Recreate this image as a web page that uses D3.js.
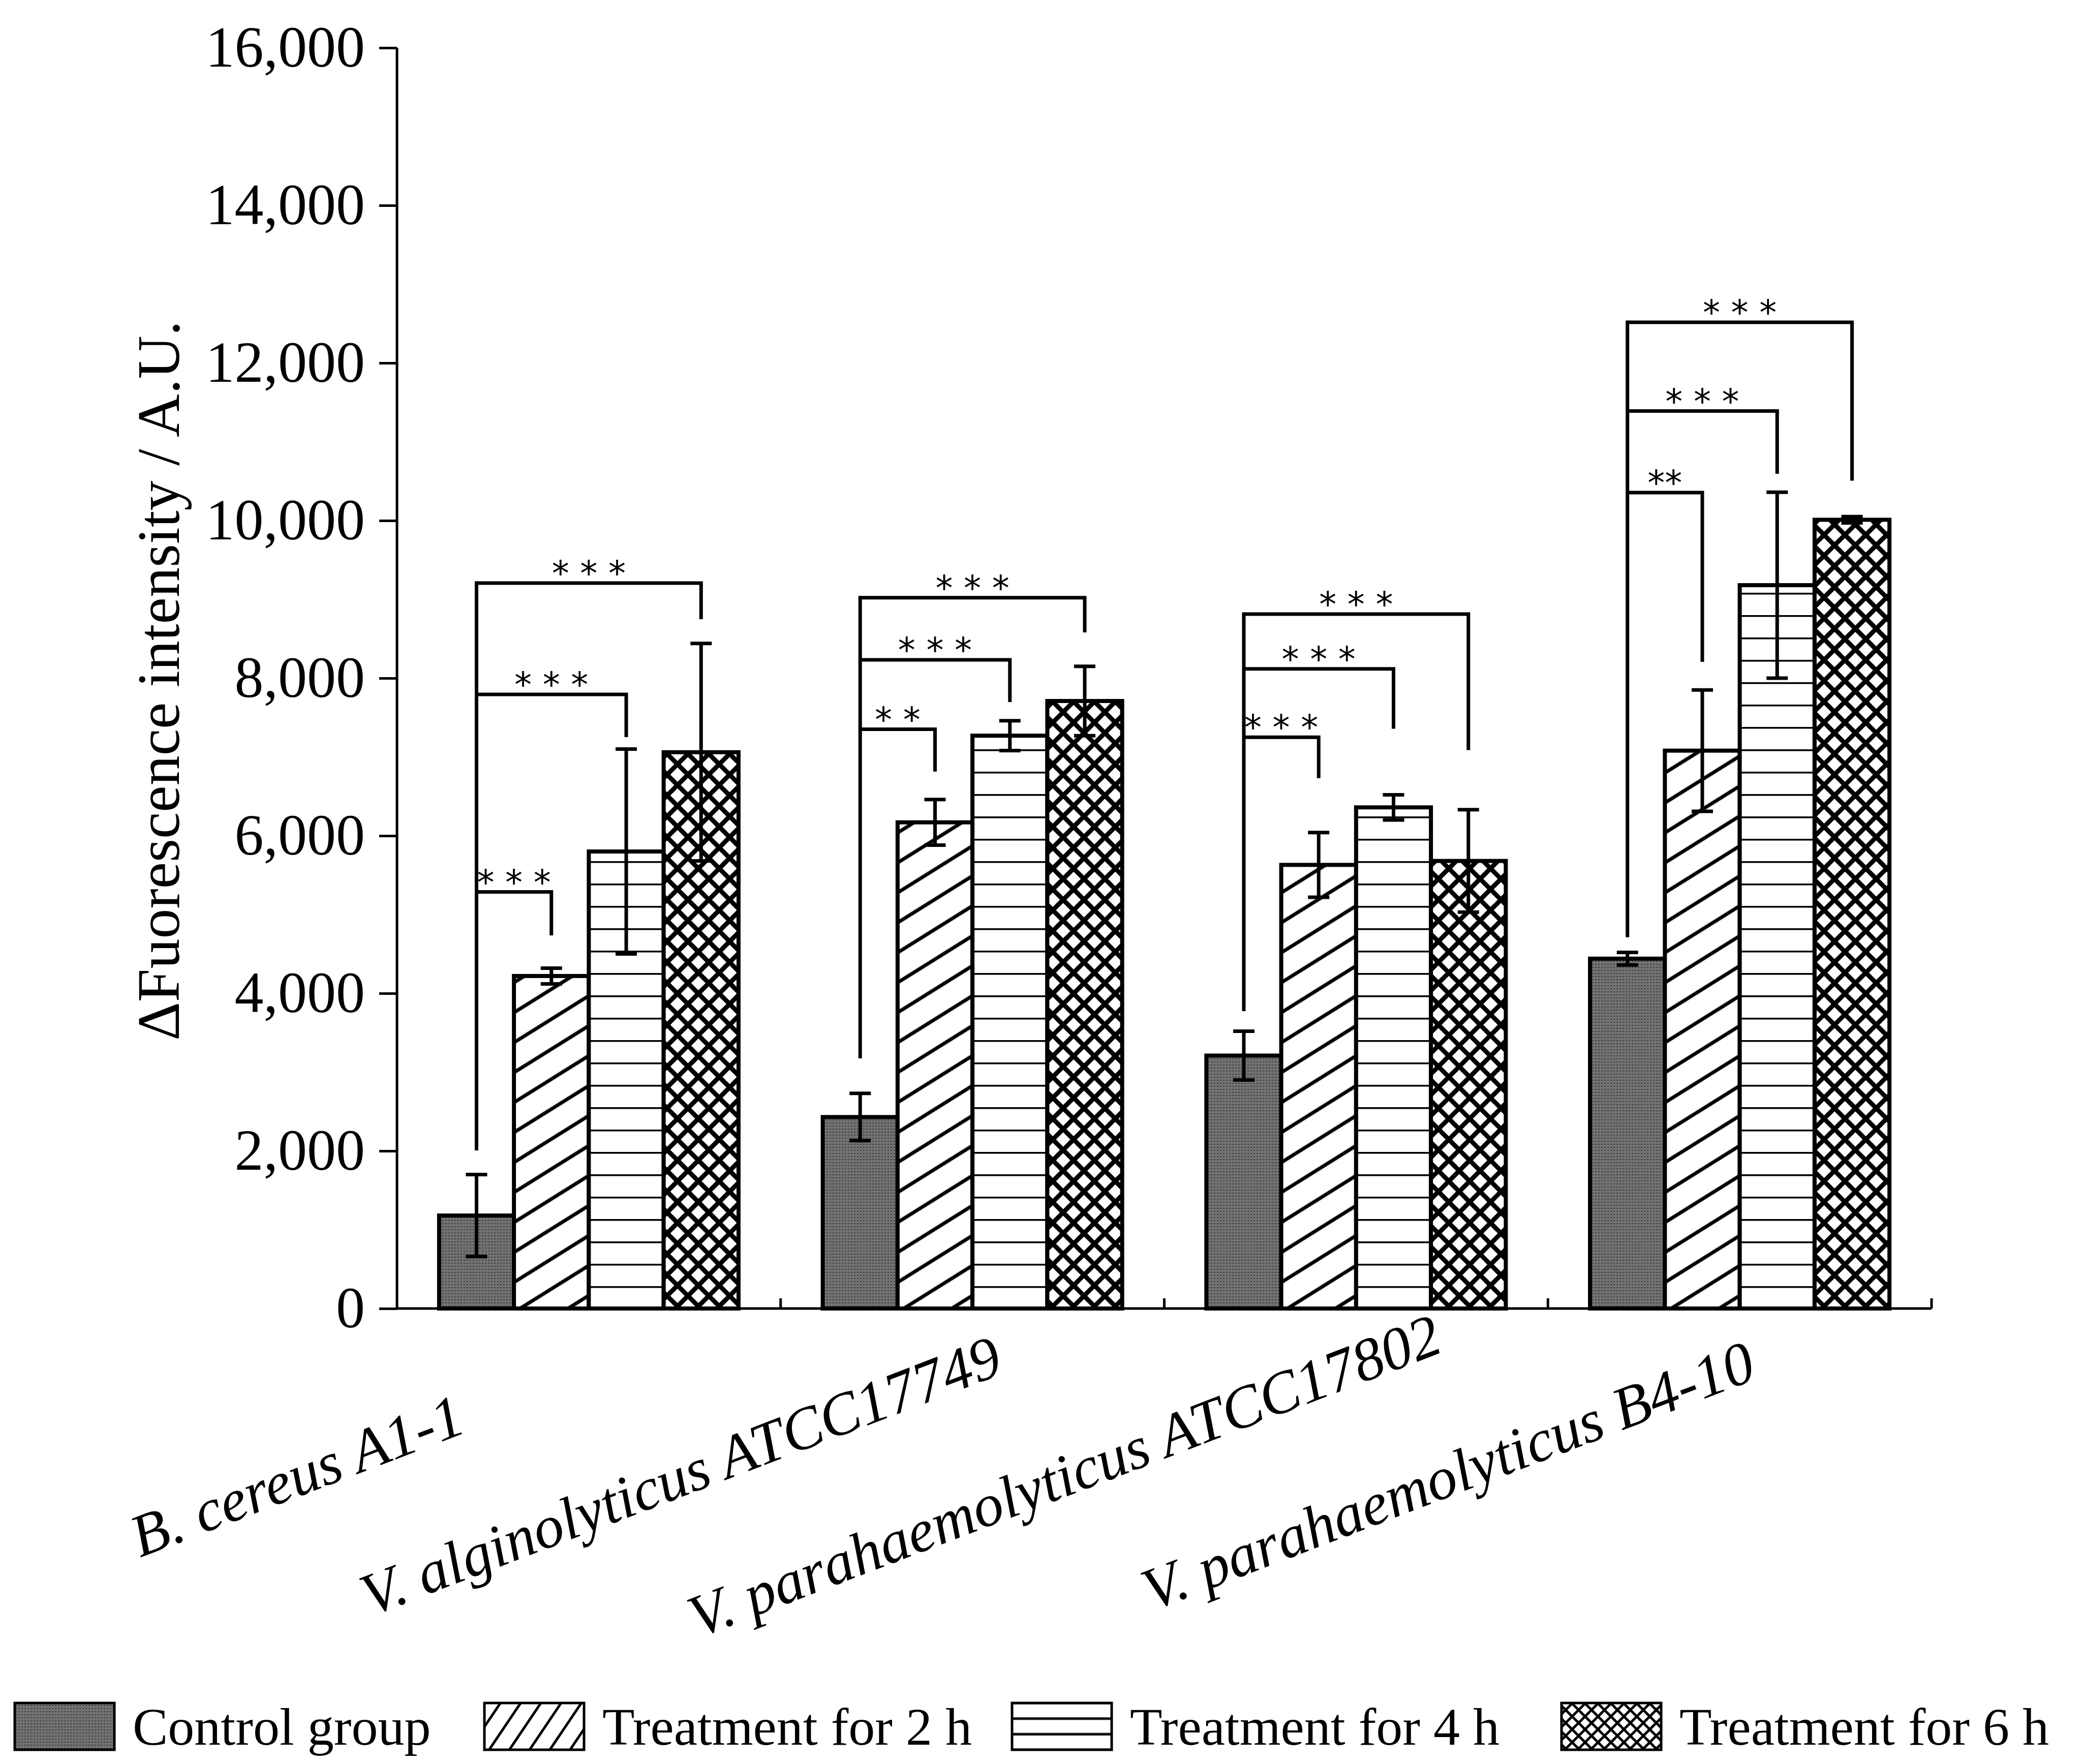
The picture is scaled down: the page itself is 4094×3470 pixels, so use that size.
<!DOCTYPE html>
<html>
<head>
<meta charset="utf-8">
<script src="https://cdn.jsdelivr.net/npm/d3@7"></script>
<style>
  body { margin: 0; background: #fff; }
</style>
</head>
<body>
<svg id="chart"></svg>
<script>
const categories = ["B. cereus A1-1", "V. alginolyticus ATCC17749", "V. parahaemolyticus ATCC17802", "V. parahaemolyticus B4-10"];
const seriesNames = ["Control group", "Treatment for 2 h", "Treatment for 4 h", "Treatment for 6 h"];

const controlMean = [1180, 2430, 3210, 4440];
const controlErr  = [520, 300, 310, 80];
const h2Mean = [4220, 6170, 5630, 7080];
const h2Err  = [100, 290, 410, 770];
const h4Mean = [5800, 7270, 6360, 9180];
const h4Err  = [1300, 190, 160, 1180];
const h6Mean = [7060, 7710, 5680, 10010];
const h6Err  = [1380, 440, 650, 40];

const yTicks = [0, 2000, 4000, 6000, 8000, 10000, 12000, 14000, 16000];

// significance brackets (values in y units): left foot, bar levels, right feet, labels
const sigStart = [2006, 3174, 3774, 4712];
const sigLevel = [[5287, 7794, 9206], [7351, 8233, 9021], [7250, 8118, 8813], [10355, 11390, 12516]];
const sigEnd   = [[4735, 7252, 8748], [6815, 7697, 8580], [6730, 7358, 7087], [8206, 10594, 10506]];
const sigText  = [["* * *", "* * *", "* * *"], ["* *", "* * *", "* * *"], ["* * *", "* * *", "* * *"], ["**", "* * *", "* * *"]];

const width = 4094;
const height = 3470;
const serif = "'Liberation Serif', 'Times New Roman', serif";

const means = [controlMean, h2Mean, h4Mean, h6Mean];
const errs = [controlErr, h2Err, h4Err, h6Err];
const fills = ["url(#pCtrl)", "url(#pH2)", "url(#pH4)", "url(#pH6)"];
const legendFills = ["url(#lCtrl)", "url(#lH2)", "url(#lH4)", "url(#lH6)"];
const legendX = [29, 953, 1991, 3072]; // legend item left edges

const svg = d3.select("#chart")
    .attr("width", width)
    .attr("height", height)
    .style("background", "#fff");

const defs = svg.append("defs");

// fill patterns
const makePattern = (id, w, h, transform, draw) => {
    const p = defs.append("pattern")
        .attr("id", id)
        .attr("patternUnits", "userSpaceOnUse")
        .attr("width", w)
        .attr("height", h);
    if (transform) p.attr("patternTransform", transform);
    p.append("rect").attr("width", w).attr("height", h).attr("fill", "#fff");
    draw(p);
};

const dots = p => {
    p.append("rect").attr("width", 6).attr("height", 6).attr("fill", "#727272");
    p.append("rect").attr("width", 3).attr("height", 2).attr("fill", "#404040");
};
makePattern("pCtrl", 6, 6, null, dots);
makePattern("lCtrl", 6, 6, null, dots);

makePattern("pH2", 50, 50, "rotate(-32)", p => p.append("rect").attr("y", 21.5).attr("width", 50).attr("height", 7).attr("fill", "#000"));
makePattern("lH2", 33, 33, "rotate(-56)", p => p.append("rect").attr("y", 14).attr("width", 33).attr("height", 5).attr("fill", "#000"));

makePattern("pH4", 10, 44, "translate(0,2574)", p => p.append("rect").attr("y", -3.5).attr("width", 10).attr("height", 7).attr("fill", "#000"));
makePattern("lH4", 10, 30.7, "translate(0,3350)", p => {
    p.append("rect").attr("y", -2.5).attr("width", 10).attr("height", 5).attr("fill", "#000");
    p.append("rect").attr("y", 28.2).attr("width", 10).attr("height", 5).attr("fill", "#000");
});

const grid = (s, t) => p => {
    p.append("rect").attr("width", s).attr("height", t).attr("fill", "#000");
    p.append("rect").attr("width", t).attr("height", s).attr("fill", "#000");
};
makePattern("pH6", 29, 29, "rotate(45)", grid(29, 9));
makePattern("lH6", 18, 18, "rotate(45)", grid(18, 5));

// scales
const x = d3.scaleBand()
    .domain(categories)
    .range([781, 3800])
    .padding(0);

const xInner = d3.scaleBand()
    .domain(d3.range(seriesNames.length))
    .range([0, x.bandwidth()])
    .paddingInner(0)
    .paddingOuter(0.5625);

const y = d3.scaleLinear()
    .domain([0, 16000])
    .range([2574, 94]);

// bars
const rows = [];
categories.forEach((c, ci) => {
    seriesNames.forEach((s, si) => {
        rows.push({ cat: c, ci: ci, si: si, value: means[si][ci], err: errs[si][ci] });
    });
});

const barCx = d => x(d.cat) + xInner(d.si) + xInner.bandwidth() / 2;

svg.append("g")
    .selectAll("rect")
    .data(rows)
    .enter()
    .append("rect")
    .attr("x", d => x(d.cat) + xInner(d.si))
    .attr("y", d => y(d.value))
    .attr("width", xInner.bandwidth())
    .attr("height", d => y(0) - y(d.value))
    .attr("fill", d => fills[d.si])
    .attr("stroke", "#000")
    .attr("stroke-width", 8);

// error bars
const eb = svg.append("g")
    .attr("stroke", "#000")
    .attr("stroke-width", 7)
    .selectAll("g")
    .data(rows)
    .enter()
    .append("g");

eb.append("line")
    .attr("x1", barCx).attr("x2", barCx)
    .attr("y1", d => y(d.value - d.err))
    .attr("y2", d => y(d.value + d.err));
eb.append("line")
    .attr("x1", d => barCx(d) - 21).attr("x2", d => barCx(d) + 21)
    .attr("y1", d => y(d.value + d.err)).attr("y2", d => y(d.value + d.err));
eb.append("line")
    .attr("x1", d => barCx(d) - 21).attr("x2", d => barCx(d) + 21)
    .attr("y1", d => y(d.value - d.err)).attr("y2", d => y(d.value - d.err));

// axes
const yAxis = svg.append("g")
    .attr("transform", "translate(781,0)")
    .call(d3.axisLeft(y).tickValues(yTicks).tickFormat(d3.format(",")).tickSize(35).tickPadding(28));
yAxis.select(".domain").attr("d", `M0,${y(16000)}V${y(0)}`).attr("stroke-width", 5);
yAxis.selectAll(".tick line").attr("stroke-width", 5);
yAxis.selectAll(".tick text")
    .style("font-family", serif)
    .style("font-size", "114px")
    .attr("fill", "#000");

svg.append("line")
    .attr("x1", 779).attr("x2", 3800)
    .attr("y1", y(0)).attr("y2", y(0))
    .attr("stroke", "#000").attr("stroke-width", 5);

const bounds = categories.map(c => x(c)).concat([x.range()[1]]).slice(1);
svg.append("g")
    .selectAll("line")
    .data(bounds)
    .enter()
    .append("line")
    .attr("x1", d => d).attr("x2", d => d)
    .attr("y1", y(0)).attr("y2", y(0) - 20)
    .attr("stroke", "#000").attr("stroke-width", 5);

svg.append("text")
    .attr("transform", "translate(352,1339) rotate(-90)")
    .attr("text-anchor", "middle")
    .style("font-family", serif)
    .style("font-size", "118px")
    .text("ΔFuorescence intensity / A.U.");

svg.append("g")
    .selectAll("text")
    .data(categories)
    .enter()
    .append("text")
    .attr("transform", d => `translate(${x(d) + x.bandwidth() / 2 - 560},2940) rotate(-21)`)
    .attr("text-anchor", "middle")
    .style("font-family", serif)
    .style("font-style", "italic")
    .style("font-size", "118px")
    .text(d => d);

// significance brackets
const sig = svg.append("g");
categories.forEach((c, ci) => {
    const x0 = x(c) + xInner(0) + xInner.bandwidth() / 2;
    const top = d3.max(sigLevel[ci]);
    sig.append("line")
        .attr("x1", x0).attr("x2", x0)
        .attr("y1", y(sigStart[ci])).attr("y2", y(top) - 3.5)
        .attr("stroke", "#000").attr("stroke-width", 7);
    sigLevel[ci].forEach((lv, k) => {
        const x1 = x(c) + xInner(k + 1) + xInner.bandwidth() / 2;
        sig.append("path")
            .attr("d", `M${x0},${y(lv)}H${x1}V${y(sigEnd[ci][k])}`)
            .attr("fill", "none")
            .attr("stroke", "#000")
            .attr("stroke-width", 7);
        sig.append("text")
            .attr("x", (x0 + x1) / 2)
            .attr("y", y(lv) + 4)
            .attr("text-anchor", "middle")
            .style("font-family", "'DejaVu Sans', sans-serif")
            .style("font-size", "68px")
            .text(sigText[ci][k]);
    });
});

// legend
const legend = svg.append("g").attr("id", "legend");
seriesNames.forEach((s, i) => {
    legend.append("rect")
        .attr("x", legendX[i]).attr("y", 3350)
        .attr("width", 196).attr("height", 92)
        .attr("fill", legendFills[i])
        .attr("stroke", "#000")
        .attr("stroke-width", 5);
    legend.append("text")
        .attr("x", legendX[i] + 196 + 36)
        .attr("y", 3432)
        .style("font-family", serif)
        .style("font-size", "104px")
        .text(s);
});
</script>
</body>
</html>
